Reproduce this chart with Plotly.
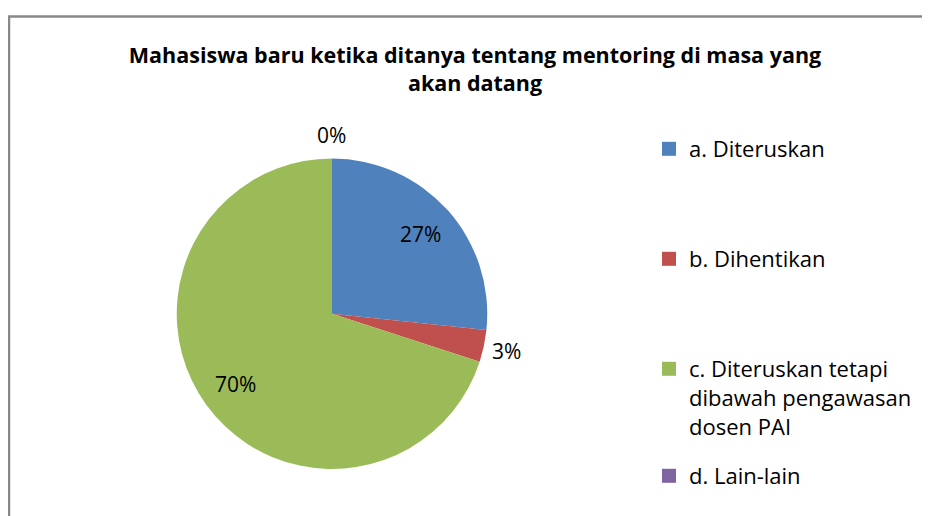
import math
import plotly.graph_objects as go

# survey answers (respondent counts)
labels = ["a. Diteruskan", "b. Dihentikan",
          "c. Diteruskan tetapi<br>dibawah pengawasan<br>dosen PAI", "d. Lain-lain"]
counts = [8, 1, 21, 0]
colors = ["#4F81BD", "#C0504D", "#9BBB59", "#8064A2"]

title = "Mahasiswa baru ketika ditanya tentang mentoring di masa yang<br>akan datang"
font_family = "Open Sans"

W, H = 930, 516
# the page adds an 8px body margin, so pixel positions below are in figure space
dom_x = [168.5 / W, 479.5 / W]
dom_y = [55 / H, 365.5 / H]

fig = go.Figure()
fig.add_trace(go.Pie(
    labels=labels,
    values=counts,
    sort=False,
    direction="clockwise",
    rotation=0,
    marker=dict(colors=colors, line=dict(width=0)),
    textinfo="none",
    showlegend=False,
    hoverinfo="label+percent",
    domain=dict(x=dom_x, y=dom_y),
))

# percentage labels Excel-style: inside for big slices, just outside for tiny ones
total = sum(counts)
cx = (dom_x[0] + dom_x[1]) / 2
cy = (dom_y[0] + dom_y[1]) / 2
r_px = min((dom_x[1] - dom_x[0]) * W, (dom_y[1] - dom_y[0]) * H) / 2
annotations = []
cum = 0
for c in counts:
    share = c / total
    mid = (cum + share / 2) * 2 * math.pi
    cum += share
    k = 0.765 if share >= 0.05 else 1.15
    annotations.append(dict(
        x=cx + k * r_px * math.sin(mid) / W,
        y=cy + k * r_px * math.cos(mid) / H,
        xref="paper", yref="paper", showarrow=False,
        xanchor="center", yanchor="middle",
        text=f"{share:.0%}",
        font=dict(family=font_family, size=21, color="black"),
    ))

# legend entries, one legend per category so they can be spaced like the original
legend_y = [150, 260, 370, 477]
for i, (lab, col) in enumerate(zip(labels, colors)):
    name = "legend" if i == 0 else f"legend{i + 1}"
    fig.add_trace(go.Scatter(
        x=[None], y=[None], mode="markers", name=lab,
        marker=dict(symbol="square", size=14, color=col),
        legend=name, showlegend=True, hoverinfo="skip",
    ))
    fig.update_layout({name: dict(
        x=641 / W, xanchor="left",
        y=1 - (legend_y[i] - 30) / H, yanchor="top",
        valign="top",
        font=dict(family=font_family, size=22, color="black"),
        bgcolor="rgba(0,0,0,0)",
    )})

fig.update_xaxes(visible=False)
fig.update_yaxes(visible=False)

fig.update_layout(
    width=W, height=H,
    margin=dict(l=0, r=0, t=0, b=0),
    paper_bgcolor="white", plot_bgcolor="white",
    title=dict(text=title, x=467 / W, xanchor="center", y=1 - 55 / H, yanchor="top",
               font=dict(family=font_family, size=21.5, color="black", weight="bold")),
    annotations=annotations,
    shapes=[dict(type="rect", xref="paper", yref="paper",
                 x0=1 / W, x1=1.1, y0=-0.1, y1=1 - 8.5 / H,
                 line=dict(color="#888888", width=2.5))],
)

fig.write_html("out.html")
